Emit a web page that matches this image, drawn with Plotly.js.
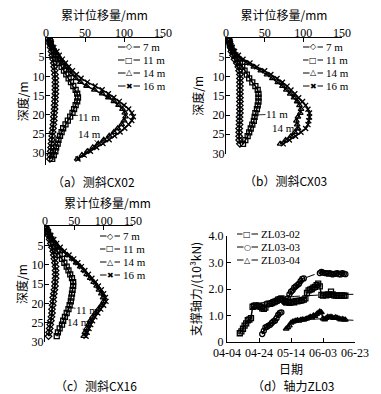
<!DOCTYPE html>
<html><head><meta charset="utf-8">
<script src="https://cdn.plot.ly/plotly-3.0.1.min.js"></script>
<style>html,body{margin:0;padding:0;background:#fff}#chart{width:381px;height:394px}</style>
</head><body><div id="chart"></div><script>
// ---------- data ----------
const stageNames = ['7 m', '11 m', '14 m', '16 m'];
const xTicks = [0, 50, 100, 150];
const depthTicks = [5, 10, 15, 20, 25, 30];

// CX02
const depthA = [0.5,1.5,2.5,3.5,4.5,5.5,6.5,7.5,8.5,9.5,10.5,11.5,12.5,13.5,14.5,15.5,16.5,17.5,18.5,19.5,20.5,21.5,22.5,23.5,24.5,25.5,26.5,27.5,28.5,29.5,30.5,31.5];
const cx02_7  = [5,5,6,7,8,9,10,10.5,11,11.5,12,12,12,12,12,11.5,11.5,11,11,10.5,10,10,9.5,9,8.5,8,7.5,7,6.5,6,5.5,5];
const cx02_11 = [5,6,8,10,13,15,17,20,23,26,29,32,35,38,40,41,40,38,36,34,31,28,25,22,20,18,16,15,13,12,10,8];
const cx02_14 = [4,6,9,12,15,18,21,25,29,33,38,44,52,62,72,80,87,93,98,101,102,100,97,92,87,81,74,67,60,53,46,40];
const cx02_16 = [4,7,10,14,17,21,25,29,34,39,45,53,63,72,80,87,94,100,106,110,112,110,106,101,95,88,81,73,65,57,49,41];

// CX03
const depthB = [0.5,1.5,2.5,3.5,4.5,5.5,6.5,7.5,8.5,9.5,10.5,11.5,12.5,13.5,14.5,15.5,16.5,17.5,18.5,19.5,20.5,21.5,22.5,23.5,24.5,25.5,26.5,27.5];
const cx03_7  = [4,5,6,7,9,11,14,16,17,18,18,18,18,18,18,18,18,18,18,18,17.5,17.5,17.5,17,17,17,17,18];
const cx03_11 = [4,5,7,9,12,15,18,21,24,27,30,34,38,41,42,42,42,41,40,38,37,36,34,32,30,28,25,22];
const cx03_14 = [4,5,7,10,14,19,27,36,45,53,60,67,73,78,83,88,92,95,97,96,93,91,92,93,89,84,77,70];
const cx03_16 = [5,6,8,11,16,22,31,40,50,58,66,73,79,84,89,94,99,103,106,108,108,107,106,103,97,90,82,74];

// CX16
const depthC = [0.5,1.5,2.5,3.5,4.5,5.5,6.5,7.5,8.5,9.5,10.5,11.5,12.5,13.5,14.5,15.5,16.5,17.5,18.5,19.5,20.5,21.5,22.5,23.5,24.5,25.5,26.5,27.5,28.5];
const cx16_7  = [2,4,6,8,10,12,14,15,16,17,18,18,18,18,17,17,16,15,14,14,13,12,12,11,10,9,8,7,6];
const cx16_11 = [2,5,8,11,14,17,21,25,29,33,37,40,43,46,48,48,47,46,45,44,42,40,37,34,31,29,25,22,20];
const cx16_14 = [2,5,9,13,18,23,30,38,46,53,60,66,71,77,83,88,92,96,99,100,96,91,86,81,77,74,71,68,66];
const cx16_16 = [3,6,10,15,20,26,33,41,49,56,62,68,74,80,86,91,96,100,103,104,100,95,90,85,81,78,75,72,70];

// ZL03 axial force (10^3 kN)
const year = '2019-';
const dateTicks = ['04-04', '04-24', '05-14', '06-03', '06-23'];
const forceTicks = [0, 1, 2, 3, 4];
const forceTickText = ['0', '1.0', '2.0', '3.0', '4.0'];
const zlNames = ['ZL03-02', 'ZL03-03', 'ZL03-04'];

const zl02Dates = ['04-12','04-13','04-14','04-15','04-16','04-17','04-18','04-19','04-20','04-21','04-22','04-23','04-24','04-25','04-26','04-27','04-28','04-29','04-30','05-01','05-02','05-03','05-04','05-05','05-06','05-07','05-08','05-09','05-10','05-11','05-12','05-13','05-14','05-15','05-16','05-17','05-18','05-19','05-20','05-21','05-22','05-23','05-24','05-25','05-26','05-27','05-28','05-29','05-30','05-31','06-01','06-02','06-03','06-04','06-05','06-06','06-07','06-08','06-09','06-10','06-11','06-12','06-13','06-14','06-15','06-16','06-17'];
const zl02Vals = [0.33,0.40,0.50,0.62,0.70,0.82,0.85,0.90,1.33,1.36,1.38,1.35,1.37,1.33,1.27,1.25,1.30,1.42,1.45,1.44,1.47,1.50,1.52,1.55,1.60,1.62,1.65,1.60,1.55,1.50,1.52,1.48,1.50,1.52,1.50,1.55,1.53,1.55,1.56,1.58,1.60,1.65,1.85,1.95,1.98,2.00,2.05,2.08,2.15,2.20,2.10,1.78,1.75,1.78,1.76,1.80,1.78,1.90,1.80,1.76,1.75,1.76,1.74,1.75,1.76,1.75,1.75];

const zl03Dates = ['04-26','04-27','04-28','04-29','04-30','05-01','05-02','05-03','05-04','05-05','05-06','05-07','05-08','05-09','05-10','05-11','05-12','05-13','05-14','05-15','05-16','05-17','05-18','05-19','05-20','05-21','05-22','05-23','06-01','06-02','06-03','06-04','06-05','06-06','06-07','06-08','06-09','06-10','06-11','06-12','06-13','06-14','06-15','06-16','06-17'];
const zl03Vals = [0.30,0.42,0.55,0.58,0.62,0.65,0.72,0.78,0.80,0.90,1.02,1.10,1.12,null,1.50,1.55,1.65,1.80,1.90,1.95,2.05,2.10,2.15,2.20,2.30,2.38,2.40,null,2.60,2.65,2.62,2.60,2.60,2.58,2.60,2.58,2.55,2.57,2.58,2.60,2.56,2.55,2.60,2.58,2.56];

const zl04Dates = ['05-11','05-12','05-13','05-14','05-15','05-16','05-17','05-18','05-19','05-20','05-21','05-22','05-23','05-24','05-25','05-26','05-27','05-28','05-29','05-30','05-31','06-01','06-02','06-03','06-04','06-05','06-06','06-07','06-08','06-09','06-10','06-11','06-12','06-13','06-14','06-15','06-16','06-17'];
const zl04Vals = [0.50,0.55,0.62,0.72,0.76,0.78,0.80,0.82,0.80,0.83,0.85,0.84,0.86,0.88,0.90,0.95,0.92,1.00,0.98,1.05,1.10,1.15,1.12,0.88,0.85,0.90,0.95,0.93,0.95,0.92,0.90,0.93,0.90,0.88,0.85,0.87,0.85,0.84];

// dashed trend lines
const tr02Dates = ['04-22','05-04','05-16','06-03','06-22'];
const tr02Vals  = [1.42,1.60,1.72,1.78,1.80];
const tr03Dates = ['04-26','05-10','05-22','06-01'];
const tr03Vals  = [0.30,1.50,2.40,2.62];
const tr04Dates = ['05-16','06-03','06-22'];
const tr04Vals  = [0.82,0.88,0.82];

// ---------- styling ----------
const W = 381, H = 394;
const px = v => v / W;
const py = v => 1 - v / H;
const FONT = 'Liberation Serif, "Noto Sans CJK SC", serif';
const CJK = '"Noto Sans CJK SC", Liberation Serif, serif';
const tickFont = {family: FONT, size: 12, color: '#000'};
const legFont = {family: FONT, size: 11, color: '#000'};
const titleFont = {family: CJK, size: 12, color: '#000'};
const stageSymbols = ['diamond-open', 'square-open', 'triangle-up-open', 'x-thin-open'];
const stageGlyphs = ['◇', '□', '△', '✖'];
const zlSymbols = ['square-open', 'circle-open', 'triangle-up-open'];
const zlGlyphs = ['□', '○', '△'];

const traces = [];
function profile(xa, ya, depth, series) {
  series.forEach((vals, i) => {
    traces.push({
      type: 'scatter', mode: 'lines+markers', x: vals, y: depth,
      xaxis: xa, yaxis: ya, name: stageNames[i], showlegend: false,
      line: {color: '#000', width: 1.5},
      marker: {symbol: stageSymbols[i], size: 5, color: '#000', line: {color: '#000', width: 1.3}}
    });
  });
}
profile('x', 'y', depthA, [cx02_7, cx02_11, cx02_14, cx02_16]);
profile('x2', 'y2', depthB, [cx03_7, cx03_11, cx03_14, cx03_16]);
profile('x3', 'y3', depthC, [cx16_7, cx16_11, cx16_14, cx16_16]);

const toDate = arr => arr.map(d => year + d);
[[zl02Dates, zl02Vals], [zl03Dates, zl03Vals], [zl04Dates, zl04Vals]].forEach((s, i) => {
  traces.push({
    type: 'scatter', mode: 'lines+markers', x: toDate(s[0]), y: s[1],
    xaxis: 'x4', yaxis: 'y4', name: zlNames[i], showlegend: false, connectgaps: false,
    line: {color: '#000', width: 1.5},
    marker: {symbol: zlSymbols[i], size: 5, color: '#000', line: {color: '#000', width: 1.3}}
  });
});
[[tr02Dates, tr02Vals], [tr03Dates, tr03Vals], [tr04Dates, tr04Vals]].forEach((s, i) => {
  traces.push({
    type: 'scatter', mode: 'lines', x: toDate(s[0]), y: s[1],
    xaxis: 'x4', yaxis: 'y4', name: zlNames[i] + ' trend', showlegend: false,
    line: {color: '#000', width: 1, dash: 'dash'}
  });
});

// ---------- axes ----------
function depthX(domain, anchor, title) {
  return {domain: domain, anchor: anchor, side: 'top', range: [0, 150], tickvals: xTicks,
    ticks: 'inside', ticklen: 4, tickcolor: '#000', showline: true, linecolor: '#000', linewidth: 1,
    showgrid: false, zeroline: false, tickfont: tickFont, ticklabelstandoff: -5,
    title: title ? {text: title, font: titleFont, standoff: 3} : undefined};
}
function depthY(domain, anchor, range, standoff) {
  return {domain: domain, anchor: anchor, range: range, tickvals: depthTicks,
    ticks: 'inside', ticklen: 4, tickcolor: '#000', showline: true, linecolor: '#000', linewidth: 1,
    showgrid: false, zeroline: false, tickfont: tickFont, ticklabelstandoff: -2,
    title: {text: '深度/m', font: titleFont, standoff: standoff}};
}

const annotations = [];
const shapes = [];
function addLegend(x0, x1, xt, ys, glyphs, labels) {
  ys.forEach((y, i) => {
    shapes.push({type: 'line', xref: 'paper', yref: 'paper', x0: px(x0), x1: px(x1), y0: py(y), y1: py(y),
      line: {color: '#000', width: 1}});
    annotations.push({xref: 'paper', yref: 'paper', x: px((x0 + x1) / 2), y: py(y), text: glyphs[i],
      showarrow: false, xanchor: 'center', yanchor: 'middle', bgcolor: '#fff', borderpad: 0,
      font: {family: 'DejaVu Sans', size: 8, color: '#000'}});
    annotations.push({xref: 'paper', yref: 'paper', x: px(xt), y: py(y), text: labels[i],
      showarrow: false, xanchor: 'left', yanchor: 'middle', borderpad: 0, font: legFont});
  });
}
addLegend(118, 140, 142, [47, 60, 73, 86], stageGlyphs, stageNames);
addLegend(303, 323, 325, [47, 60, 73, 86], stageGlyphs, stageNames);
addLegend(100, 120, 122, [236, 249, 262, 275], stageGlyphs, stageNames);
addLegend(237, 258, 260, [234, 247, 260], zlGlyphs, zlNames);

function curveLabel(xa, ya, x, y, text, ax, ay) {
  annotations.push({xref: xa, yref: ya, x: x, y: y, text: text, showarrow: true, arrowhead: 0,
    arrowwidth: 0.8, arrowcolor: '#000', ax: ax, ay: ay, standoff: 0, borderpad: 0, font: legFont});
}
curveLabel('x', 'y', 32.5, 20, '11 m', 18, 2);
curveLabel('x', 'y', 66, 27.5, '14 m', -8, -10);
curveLabel('x2', 'y2', 37.5, 20, '11 m', 22, -1);
curveLabel('x2', 'y2', 87, 25.5, '14 m', -10, -8);
curveLabel('x3', 'y3', 41, 21, '11 m', 18, 3);
curveLabel('x3', 'y3', 68, 27.5, '14 m', -6, -10);

// captions and panel-c x title
const captions = [['（a）测斜CX02', 93, 182], ['（b）测斜CX03', 285, 180], ['（c）测斜CX16', 96, 385], ['（d）轴力ZL03', 293, 385]];
captions.forEach(c => annotations.push({xref: 'paper', yref: 'paper', x: px(c[1]), y: py(c[2]), text: c[0],
  showarrow: false, xanchor: 'center', yanchor: 'middle', font: titleFont}));
annotations.push({xref: 'paper', yref: 'paper', x: px(107), y: py(202), text: '累计位移量/mm',
  showarrow: false, xanchor: 'center', yanchor: 'middle', borderpad: 0, font: titleFont});

const layout = {
  width: W, height: H, margin: {l: 0, r: 0, t: 0, b: 0},
  paper_bgcolor: '#fff', plot_bgcolor: 'rgba(0,0,0,0)', showlegend: false,
  font: {family: FONT, size: 12, color: '#000'},
  xaxis: depthX([px(46), px(163)], 'y', '累计位移量/mm'),
  yaxis: depthY([py(164.7), py(38)], 'x', [33, 0], 1),
  xaxis2: depthX([px(226), px(342)], 'y2', '累计位移量/mm'),
  yaxis2: depthY([py(153.5), py(38)], 'x2', [30, 0], 6),
  xaxis3: depthX([px(45), px(133)], 'y3', null),
  yaxis3: depthY([py(342), py(226)], 'x3', [30, 0], 1),
  xaxis4: {domain: [px(227), px(355)], anchor: 'y4', type: 'date',
    range: [year + '04-04', year + '06-23'], tickvals: toDate(dateTicks), tickformat: '%m-%d',
    ticks: 'inside', ticklen: 4, tickcolor: '#000', showline: true, linecolor: '#000', linewidth: 1,
    showgrid: false, zeroline: false, tickfont: tickFont,
    title: {text: '日期', font: titleFont, standoff: 4}},
  yaxis4: {domain: [py(342), py(236)], anchor: 'x4', range: [0, 4], tickvals: forceTicks, ticktext: forceTickText,
    ticks: 'inside', ticklen: 4, tickcolor: '#000', showline: true, linecolor: '#000', linewidth: 1,
    showgrid: false, zeroline: false, tickfont: tickFont,
    title: {text: '支撑轴力/(10³kN)', font: titleFont, standoff: 4}},
  annotations: annotations,
  shapes: shapes
};

Plotly.newPlot('chart', traces, layout, {staticPlot: true, displayModeBar: false});
</script></body></html>
